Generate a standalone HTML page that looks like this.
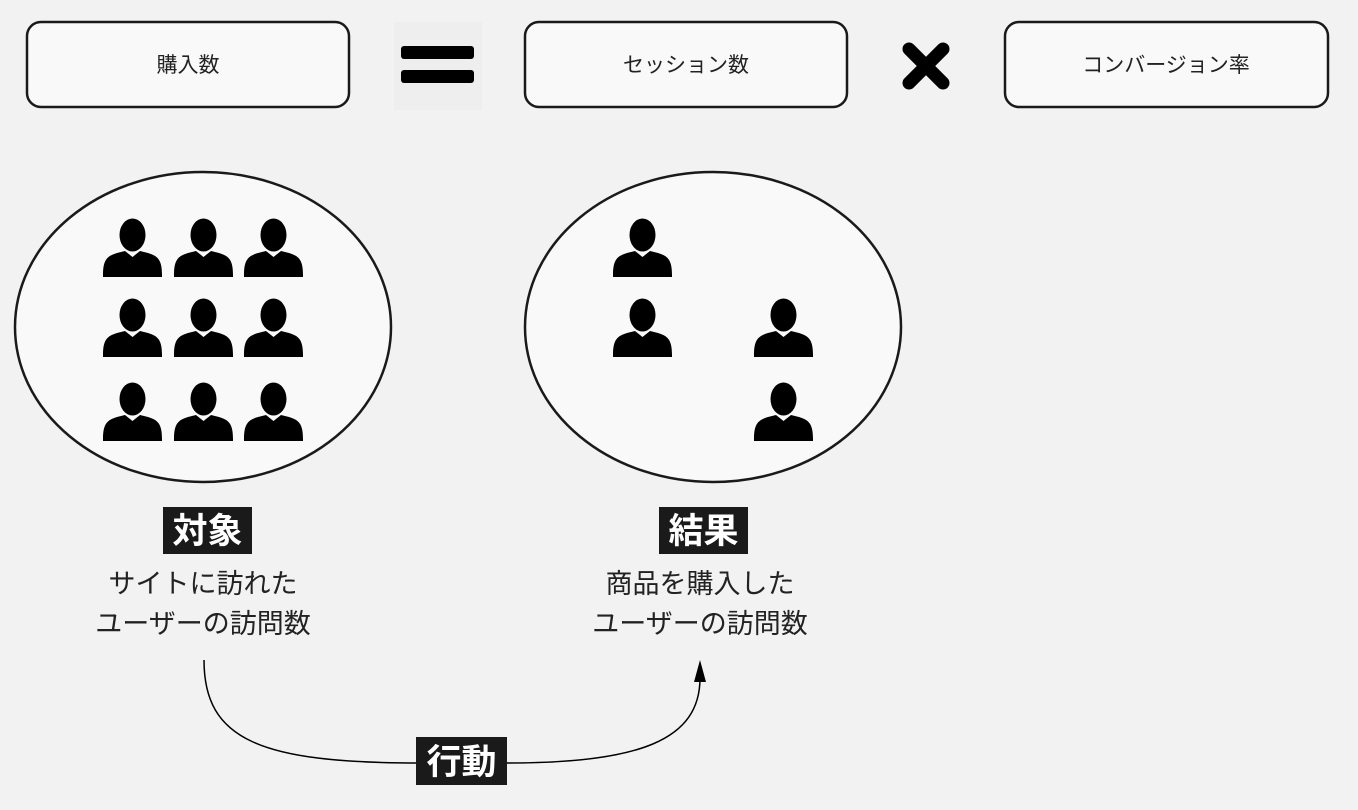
<!DOCTYPE html>
<html><head><meta charset="utf-8"><style>
body{margin:0;width:1358px;height:810px;background:#f2f2f2;overflow:hidden;font-family:"Liberation Sans","Noto Sans CJK JP",sans-serif;}
</style></head><body>
<svg width="1358" height="810" xmlns="http://www.w3.org/2000/svg" style="position:absolute;left:0;top:0">
<defs>
<g id="p">
<ellipse cx="29.5" cy="17" rx="13" ry="16.5" fill="#000"/>
<path d="M0 57 C0 42 4 38 14 35 L22 33 L29.5 39 L37 33 L45 35 C55 38 59 42 59 57 L59 59 L0 59 Z" fill="#000"/>
</g>
</defs>
<g fill="#f9f9f9" stroke="#1a1a1a" stroke-width="2.5">
<rect x="27" y="22" width="322" height="85" rx="14"/>
<rect x="525" y="22" width="322" height="85" rx="14"/>
<rect x="1005" y="22" width="323" height="85" rx="14"/>
</g>
<g font-size="21" fill="#222" text-anchor="middle">
<text x="188" y="72">購入数</text>
<text x="686" y="72">セッション数</text>
<text x="1166" y="72">コンバージョン率</text>
</g>
<rect x="394" y="22" width="88" height="88" fill="#eeeeee"/>
<rect x="401" y="46" width="73" height="13" rx="3" fill="#000"/>
<rect x="401" y="70" width="73" height="13" rx="3" fill="#000"/>
<g stroke="#000" stroke-width="13" stroke-linecap="round">
<line x1="909" y1="49" x2="943" y2="83"/><line x1="943" y1="49" x2="909" y2="83"/>
</g>
<ellipse cx="203" cy="327" rx="188" ry="155" fill="#f9f9f9" stroke="#1a1a1a" stroke-width="2.5"/>
<ellipse cx="713" cy="327" rx="188" ry="155" fill="#f9f9f9" stroke="#1a1a1a" stroke-width="2.5"/>
<use href="#p" x="103" y="218"/><use href="#p" x="174" y="218"/><use href="#p" x="244" y="218"/>
<use href="#p" x="103" y="298"/><use href="#p" x="174" y="298"/><use href="#p" x="244" y="298"/>
<use href="#p" x="103" y="382"/><use href="#p" x="174" y="382"/><use href="#p" x="244" y="382"/>
<use href="#p" x="613" y="218"/><use href="#p" x="613" y="298"/><use href="#p" x="754" y="298"/><use href="#p" x="754" y="382"/>
<rect x="163" y="507" width="89" height="47" fill="#1a1a1a"/>
<rect x="659" y="507" width="89" height="47" fill="#1a1a1a"/>
<g font-size="35" font-weight="bold" fill="#fff" text-anchor="middle">
<text x="207.5" y="543">対象</text>
<text x="703.5" y="543">結果</text>
</g>
<g font-size="27" fill="#222" text-anchor="middle">
<text x="203" y="593">サイトに訪れた</text>
<text x="203" y="633">ユーザーの訪問数</text>
<text x="700" y="593">商品を購入した</text>
<text x="700" y="633">ユーザーの訪問数</text>
</g>
<path d="M204 660 C204 740 260 763 420 763 L507 763 C640 763 700 740 700 678" fill="none" stroke="#000" stroke-width="1.5"/>
<path d="M700 660 L694 682 L706 682 Z" fill="#000"/>
<rect x="416" y="737" width="91" height="48" fill="#1a1a1a"/>
<text x="461.5" y="774" font-size="35" font-weight="bold" fill="#fff" text-anchor="middle">行動</text>
</svg>
</body></html>
